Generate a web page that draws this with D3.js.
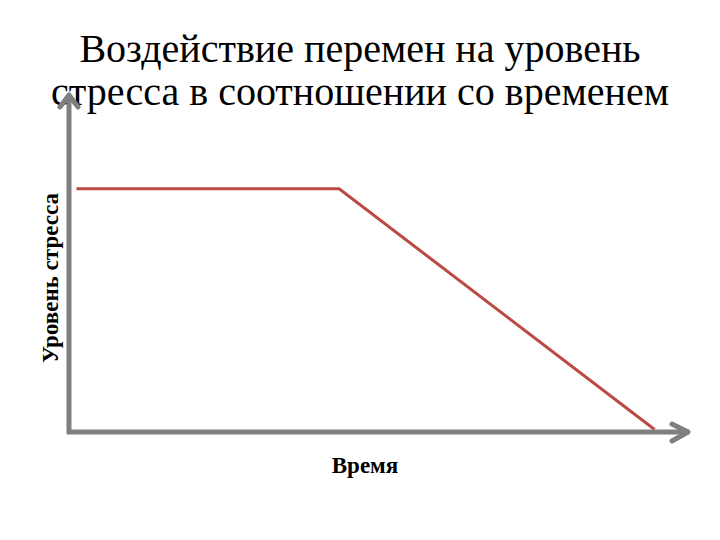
<!DOCTYPE html>
<html>
<head>
<meta charset="utf-8">
<script src="https://cdn.jsdelivr.net/npm/d3@7"></script>
<style>
  body { margin: 0; background: #fff; }
</style>
</head>
<body>
<svg id="chart" width="720" height="540"></svg>
<script>
// data (arbitrary units, 0..100)
var time = [1.2, 43.5, 94.3];
var stress = [69.5, 69.5, 0.7];
var titleLines = ["Воздействие перемен на уровень", "стресса в соотношении со временем"];
var xLabel = "Время";
var yLabel = "Уровень стресса";

var serif = "'Liberation Serif', 'Times New Roman', serif";

var svg = d3.select("#chart");

var x0 = 69, y0 = 432;
var x = d3.scaleLinear().domain([0, 100]).range([x0, 690]);
var y = d3.scaleLinear().domain([0, 100]).range([y0, 82]);

var gray = "#7f7f7f";

// stress line
var line = d3.line()
    .x(function(d, i) { return x(time[i]); })
    .y(function(d) { return y(d); });

svg.append("path")
    .datum(stress)
    .attr("d", line)
    .style("fill", "none")
    .style("stroke", "#bc4a44")
    .style("stroke-width", 3);

// title
svg.selectAll(".title")
    .data(titleLines)
    .enter().append("text")
    .attr("class", "title")
    .attr("x", 360)
    .attr("y", function(d, i) { return 62 + i * 43; })
    .attr("text-anchor", "middle")
    .style("font-family", serif)
    .style("font-size", "40px")
    .style("fill", "#000")
    .text(function(d) { return d; });

// axes
svg.append("line")
    .attr("x1", x0).attr("y1", y0 + 2)
    .attr("x2", x0).attr("y2", 95)
    .style("stroke", gray).style("stroke-width", 5);
svg.append("line")
    .attr("x1", x0 - 2).attr("y1", y0)
    .attr("x2", 689).attr("y2", y0)
    .style("stroke", gray).style("stroke-width", 5);

// arrow heads
svg.append("path")
    .attr("d", "M" + (x0 - 9) + ",107 L" + x0 + ",95 L" + (x0 + 9) + ",107")
    .style("fill", "none").style("stroke", gray).style("stroke-width", 5)
    .style("stroke-linecap", "round").style("stroke-linejoin", "round");
svg.append("path")
    .attr("d", "M672," + (y0 - 8) + " L688," + y0 + " L672," + (y0 + 9))
    .style("fill", "none").style("stroke", gray).style("stroke-width", 5)
    .style("stroke-linecap", "round").style("stroke-linejoin", "round");

// axis labels
svg.append("text")
    .attr("x", 365)
    .attr("y", 473)
    .attr("text-anchor", "middle")
    .style("font-family", serif)
    .style("font-size", "23px")
    .style("font-weight", "bold")
    .text(xLabel);

svg.append("text")
    .attr("transform", "translate(58,278) rotate(-90)")
    .attr("text-anchor", "middle")
    .style("font-family", serif)
    .style("font-size", "23px")
    .style("font-weight", "bold")
    .text(yLabel);
</script>
</body>
</html>
